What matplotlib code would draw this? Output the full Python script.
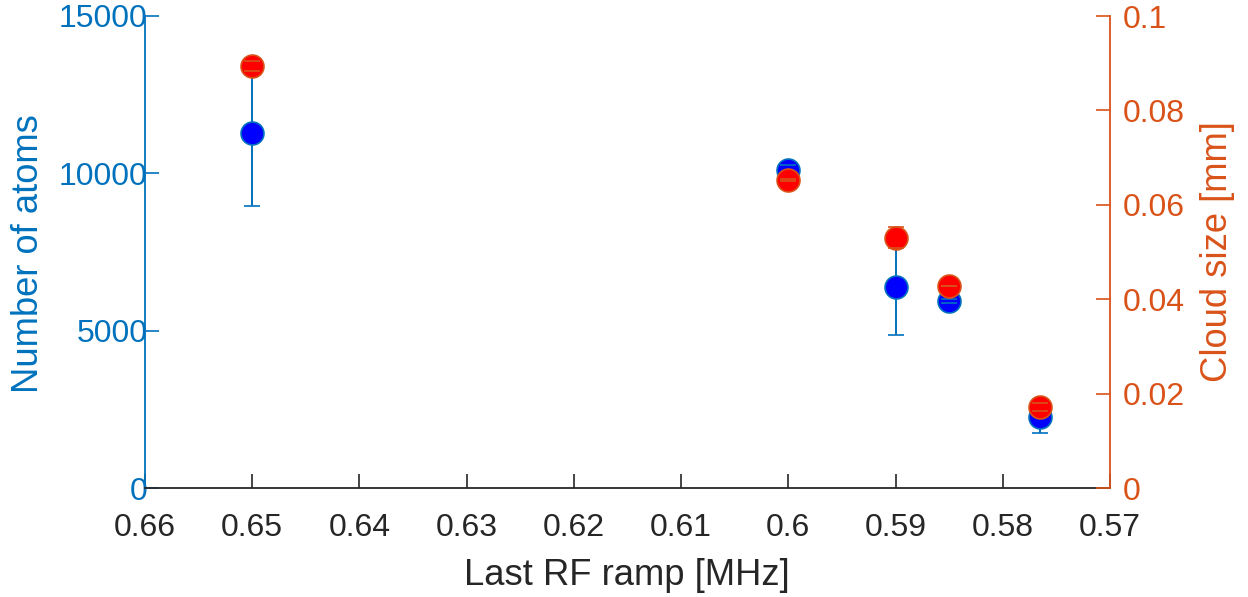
import matplotlib
matplotlib.use("Agg")
import matplotlib.pyplot as plt

plt.rcParams['font.family'] = ['Liberation Sans', 'DejaVu Sans']

rf_ramp = [0.65, 0.60, 0.59, 0.585, 0.5765]
atoms = [11280, 10110, 6390, 5940, 2250]
atoms_err = [2320, 150, 1540, 60, 500]
cloud = [0.0894, 0.0653, 0.0530, 0.0428, 0.0172]
cloud_err = [0.0011, 0.0002, 0.0022, 0.0001, 0.0008]

xticks = [0.66, 0.65, 0.64, 0.63, 0.62, 0.61, 0.60, 0.59, 0.58, 0.57]
xticklabels = ['0.66', '0.65', '0.64', '0.63', '0.62', '0.61', '0.6', '0.59', '0.58', '0.57']
yticks_left = [0, 5000, 10000, 15000]
yticks_right = [0, 0.02, 0.04, 0.06, 0.08, 0.1]
yticklabels_right = ['0', '0.02', '0.04', '0.06', '0.08', '0.1']

BLUE = '#0072BD'
ORANGE = '#D95319'
DARK = '#262626'
TICK_FS = 23
LABEL_FS = 26.2

fig = plt.figure(figsize=(12.48, 5.97), dpi=100)
ax = fig.add_axes([145/1248, 1 - 488/597, (1110-145)/1248, (488-16)/597])
ax2 = ax.twinx()

# left series
ln, caps, bars = ax.errorbar(rf_ramp, atoms, yerr=atoms_err, fmt='o', color=BLUE,
                             markerfacecolor='#0000FF', markeredgecolor=BLUE,
                             markersize=16.5, markeredgewidth=1.2,
                             elinewidth=1.4, capsize=6, capthick=1.4, zorder=3)
for c in caps:
    c.set_zorder(4)

# right series
ln2, caps2, bars2 = ax2.errorbar(rf_ramp, cloud, yerr=cloud_err, fmt='o', color=ORANGE,
                                 markerfacecolor='#FF0000', markeredgecolor=ORANGE,
                                 markersize=16.5, markeredgewidth=1.2,
                                 elinewidth=1.4, capsize=6, capthick=1.4, zorder=3)
for c in caps2:
    c.set_zorder(4)

ax.set_xlim(0.66, 0.57)
ax.set_ylim(0, 15000)
ax2.set_ylim(0, 0.1)

ax.set_xticks(xticks)
ax.set_xticklabels(xticklabels)
ax.set_yticks(yticks_left)
ax.set_yticklabels([str(v) for v in yticks_left])
ax2.set_yticks(yticks_right)
ax2.set_yticklabels(yticklabels_right)

for a in (ax, ax2):
    a.spines['top'].set_visible(False)
    a.set_facecolor('none')
ax.spines['right'].set_visible(False)
ax2.spines['left'].set_visible(False)
ax2.spines['bottom'].set_visible(False)
ax.spines['left'].set_color(BLUE)
ax.spines['bottom'].set_color(DARK)
ax2.spines['right'].set_color(ORANGE)
for s in ax.spines.values():
    s.set_linewidth(1.3)
ax2.spines['right'].set_linewidth(1.3)

ax.tick_params(axis='x', direction='in', length=10, width=1.2, color=DARK,
               labelcolor=DARK, labelsize=TICK_FS, pad=18)
ax.tick_params(axis='y', direction='in', length=10, width=1.2, color=BLUE,
               labelcolor=BLUE, labelsize=TICK_FS, pad=-2)
ax2.tick_params(axis='y', direction='in', length=10, width=1.2, color=ORANGE,
                labelcolor=ORANGE, labelsize=TICK_FS, pad=9)

ax.set_xlabel('Last RF ramp [MHz]', fontsize=LABEL_FS, color=DARK, va='baseline')
ax.xaxis.set_label_coords(0.499, -0.2055)
ax.set_ylabel('Number of atoms', fontsize=LABEL_FS, color=BLUE, va='baseline')
ax.yaxis.set_label_coords(-0.1106, 0.496)
ax2.set_ylabel('Cloud size [mm]', fontsize=LABEL_FS, color=ORANGE, va='baseline',
               rotation=90)
ax2.yaxis.set_label_coords(1.1209, 0.5007)

fig.savefig('out.png', dpi=100)
